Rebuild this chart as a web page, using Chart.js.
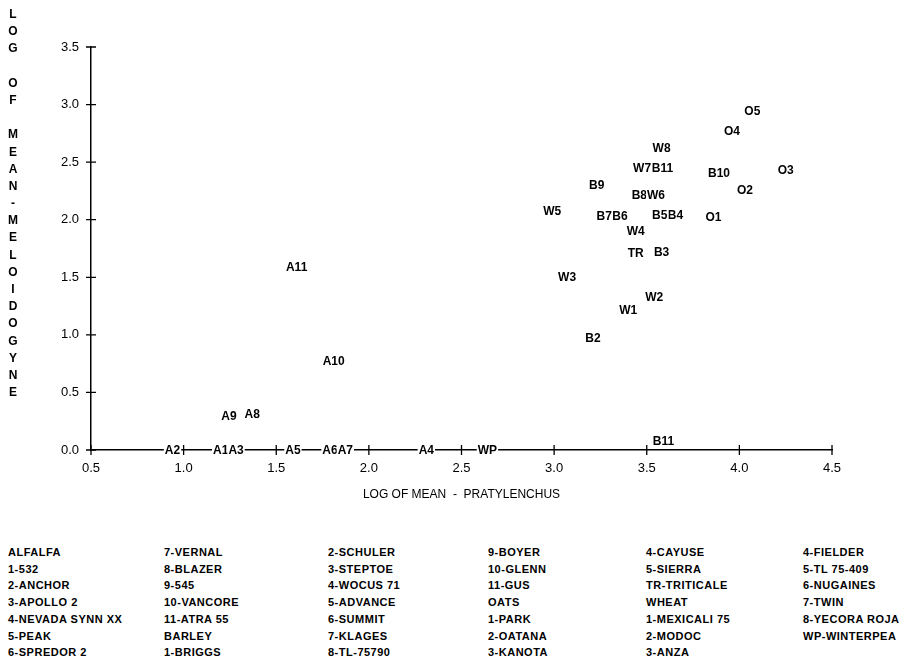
<!DOCTYPE html>
<html>
<head>
<meta charset="utf-8">
<script src="https://cdn.jsdelivr.net/npm/chart.js@4.4.0/dist/chart.umd.min.js"></script>
<style>
  body { margin: 0; background: #fff; width: 914px; height: 657px; overflow: hidden; position: relative; }
  #wrap { position: absolute; left: 0; top: 0; width: 914px; height: 520px; }
  #ytitle { position: absolute; left: 5px; top: 6px; width: 16px; text-align: center;
            font: bold 12px "Liberation Sans", Arial, sans-serif; line-height: 17.2px; color: #000; }
  #ytitle div { height: 17.2px; }
  .col { position: absolute; top: 544px; font: bold 11px "Liberation Sans", Arial, sans-serif;
         letter-spacing: 0.5px; line-height: 16.7px; white-space: pre; color: #000; }
</style>
</head>
<body>
<div id="wrap"><canvas id="myChart"></canvas></div>
<div id="ytitle"></div>
<div id="legend"></div>
<script>
// plotted codes and their log means
const codes = ['A1', 'A2', 'A3', 'A4', 'A5', 'A6', 'A7', 'A8', 'A9', 'A10', 'A11',
  'B2', 'B3', 'B4', 'B5', 'B6', 'B7', 'B8', 'B9', 'B10', 'B11', 'B11',
  'O1', 'O2', 'O3', 'O4', 'O5', 'TR',
  'W1', 'W2', 'W3', 'W4', 'W5', 'W6', 'W7', 'W8', 'WP'];
const pratylenchus = [1.20, 0.94, 1.283, 2.31, 1.59, 1.79, 1.873, 1.37, 1.245, 1.81, 1.61,
  3.21, 3.58, 3.655, 3.57, 3.355, 3.27, 3.46, 3.23, 3.89, 3.585, 3.59,
  3.86, 4.03, 4.25, 3.96, 4.07, 3.44,
  3.40, 3.54, 3.07, 3.44, 2.99, 3.55, 3.475, 3.58, 2.64];
const meloidogyne = [0, 0, 0, 0, 0, 0, 0, 0.31, 0.29, 0.77, 1.59,
  0.97, 1.72, 2.04, 2.04, 2.03, 2.03, 2.21, 2.30, 2.40, 2.45, 0.08,
  2.02, 2.26, 2.43, 2.77, 2.94, 1.71,
  1.21, 1.33, 1.50, 1.90, 2.07, 2.21, 2.45, 2.62, 0];

const yTitle = 'LOG OF MEAN-MELOIDOGYNE';
const xTitle = 'LOG OF MEAN  -  PRATYLENCHUS';

const legendCols = [
  ['ALFALFA', '1-532', '2-ANCHOR', '3-APOLLO 2', '4-NEVADA SYNN XX', '5-PEAK', '6-SPREDOR 2'],
  ['7-VERNAL', '8-BLAZER', '9-545', '10-VANCORE', '11-ATRA 55', 'BARLEY', '1-BRIGGS'],
  ['2-SCHULER', '3-STEPTOE', '4-WOCUS 71', '5-ADVANCE', '6-SUMMIT', '7-KLAGES', '8-TL-75790'],
  ['9-BOYER', '10-GLENN', '11-GUS', 'OATS', '1-PARK', '2-OATANA', '3-KANOTA'],
  ['4-CAYUSE', '5-SIERRA', 'TR-TRITICALE', 'WHEAT', '1-MEXICALI 75', '2-MODOC', '3-ANZA'],
  ['4-FIELDER', '5-TL 75-409', '6-NUGAINES', '7-TWIN', '8-YECORA ROJA', 'WP-WINTERPEA']
];
const legendX = [8, 164, 328, 488, 646, 803];

// vertical axis title, one letter per line
const yt = document.getElementById('ytitle');
for (const ch of yTitle) {
  const d = document.createElement('div');
  d.textContent = ch === ' ' ? '\u00a0' : ch;
  yt.appendChild(d);
}

const lg = document.getElementById('legend');
legendCols.forEach((col, i) => {
  const d = document.createElement('div');
  d.className = 'col';
  d.style.left = legendX[i] + 'px';
  d.textContent = col.join('\n');
  lg.appendChild(d);
});

const points = codes.map((c, i) => ({ x: pratylenchus[i], y: meloidogyne[i], code: c }));

// cross-shaped tick marks on both axes
const crossTicks = {
  id: 'crossTicks',
  beforeDatasetsDraw(chart) {
    const { ctx, scales: { x, y } } = chart;
    ctx.save();
    ctx.strokeStyle = '#000';
    ctx.lineWidth = 1.3;
    ctx.beginPath();
    x.ticks.forEach(t => {
      const px = x.getPixelForValue(t.value);
      ctx.moveTo(px, y.bottom - 5);
      ctx.lineTo(px, y.bottom + 5);
    });
    y.ticks.forEach(t => {
      const py = y.getPixelForValue(t.value);
      ctx.moveTo(x.left - 5, py);
      ctx.lineTo(x.left + 5, py);
    });
    ctx.stroke();
    ctx.restore();
  }
};

// codes written at the points, on white so they break the axis line
const codeLabels = {
  id: 'codeLabels',
  afterDatasetsDraw(chart) {
    const { ctx } = chart;
    const meta = chart.getDatasetMeta(0);
    ctx.save();
    ctx.font = 'bold 12px "Liberation Sans", Arial, sans-serif';
    ctx.textAlign = 'center';
    ctx.textBaseline = 'middle';
    meta.data.forEach((el, i) => {
      const txt = chart.data.datasets[0].data[i].code;
      const w = ctx.measureText(txt).width;
      ctx.fillStyle = '#fff';
      ctx.fillRect(el.x - w / 2 - 1, el.y - 6, w + 2, 12);
      ctx.fillStyle = '#000';
      ctx.fillText(txt, el.x, el.y + 0.5);
    });
    ctx.restore();
  }
};

const ctx = document.getElementById('myChart').getContext('2d');
const myChart = new Chart(ctx, {
  type: 'scatter',
  data: {
    datasets: [{
      data: points,
      pointRadius: 0,
      pointHoverRadius: 0
    }]
  },
  options: {
    responsive: true,
    maintainAspectRatio: false,
    animation: false,
    events: [],
    layout: { padding: { left: 0, right: 82, top: 47, bottom: 14 } },
    plugins: {
      legend: { display: false },
      tooltip: { enabled: false }
    },
    scales: {
      x: {
        type: 'linear',
        min: 0.5,
        max: 4.5,
        grid: { display: false, drawTicks: false },
        border: { display: true, color: '#000', width: 1.5 },
        ticks: {
          stepSize: 0.5,
          padding: 11,
          color: '#000',
          font: { family: 'Liberation Sans', size: 13 },
          callback: v => v.toFixed(1)
        },
        title: {
          display: true,
          text: xTitle,
          color: '#000',
          font: { family: 'Liberation Sans', size: 12 },
          padding: { top: 6 }
        },
        afterFit: s => { s.height = 56; }
      },
      y: {
        type: 'linear',
        min: 0,
        max: 3.5,
        grid: { display: false, drawTicks: false },
        border: { display: true, color: '#000', width: 1.5 },
        ticks: {
          stepSize: 0.5,
          padding: 12,
          color: '#000',
          font: { family: 'Liberation Sans', size: 13 },
          callback: v => v.toFixed(1)
        },
        afterFit: s => { s.width = 91; }
      }
    }
  },
  plugins: [crossTicks, codeLabels]
});
</script>
</body>
</html>
